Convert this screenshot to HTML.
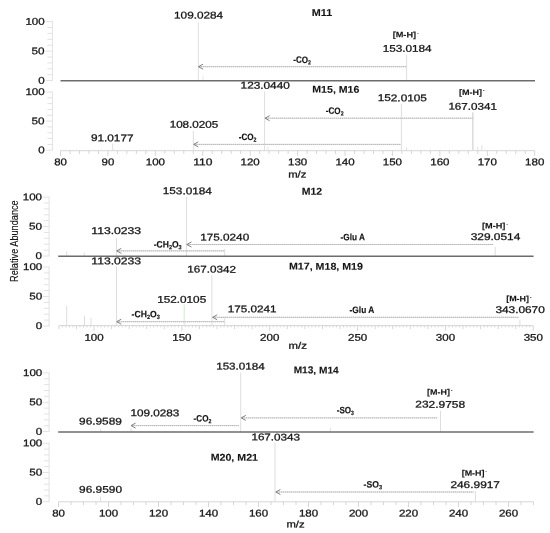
<!DOCTYPE html>
<html><head><meta charset="utf-8"><title>MS/MS spectra</title>
<style>
html,body{margin:0;padding:0;background:#fff;}
svg{display:block;font-family:"Liberation Sans",sans-serif;}
</style></head><body>
<svg width="550" height="533" viewBox="0 0 550 533">
<rect width="550" height="533" fill="#fff"/>
<line x1="52.40" y1="21.10" x2="52.40" y2="81.10" stroke="#e2e2e2" stroke-width="1" />
<line x1="45.80" y1="80.60" x2="52.40" y2="80.60" stroke="#e2e2e2" stroke-width="1" />
<line x1="47.40" y1="74.70" x2="52.40" y2="74.70" stroke="#e2e2e2" stroke-width="1" />
<line x1="47.40" y1="68.80" x2="52.40" y2="68.80" stroke="#e2e2e2" stroke-width="1" />
<line x1="47.40" y1="62.90" x2="52.40" y2="62.90" stroke="#e2e2e2" stroke-width="1" />
<line x1="47.40" y1="57.00" x2="52.40" y2="57.00" stroke="#e2e2e2" stroke-width="1" />
<line x1="45.80" y1="51.10" x2="52.40" y2="51.10" stroke="#e2e2e2" stroke-width="1" />
<line x1="47.40" y1="45.20" x2="52.40" y2="45.20" stroke="#e2e2e2" stroke-width="1" />
<line x1="47.40" y1="39.30" x2="52.40" y2="39.30" stroke="#e2e2e2" stroke-width="1" />
<line x1="47.40" y1="33.40" x2="52.40" y2="33.40" stroke="#e2e2e2" stroke-width="1" />
<line x1="47.40" y1="27.50" x2="52.40" y2="27.50" stroke="#e2e2e2" stroke-width="1" />
<line x1="45.80" y1="21.60" x2="52.40" y2="21.60" stroke="#e2e2e2" stroke-width="1" />
<text transform="rotate(0.2 35.0 24.7)" x="25.40" y="24.70" font-size="9.8" textLength="19.20" lengthAdjust="spacingAndGlyphs" fill="#141414" stroke="#141414" stroke-width="0.28" >100</text>
<text transform="rotate(0.2 38.1 54.2)" x="31.60" y="54.20" font-size="9.8" textLength="13.00" lengthAdjust="spacingAndGlyphs" fill="#141414" stroke="#141414" stroke-width="0.28" >50</text>
<text transform="rotate(0.2 41.4 83.7)" x="38.20" y="83.70" font-size="9.8" textLength="6.40" lengthAdjust="spacingAndGlyphs" fill="#141414" stroke="#141414" stroke-width="0.28" >0</text>
<line x1="52.40" y1="91.50" x2="52.40" y2="150.70" stroke="#e2e2e2" stroke-width="1" />
<line x1="45.80" y1="150.20" x2="52.40" y2="150.20" stroke="#e2e2e2" stroke-width="1" />
<line x1="47.40" y1="144.38" x2="52.40" y2="144.38" stroke="#e2e2e2" stroke-width="1" />
<line x1="47.40" y1="138.56" x2="52.40" y2="138.56" stroke="#e2e2e2" stroke-width="1" />
<line x1="47.40" y1="132.74" x2="52.40" y2="132.74" stroke="#e2e2e2" stroke-width="1" />
<line x1="47.40" y1="126.92" x2="52.40" y2="126.92" stroke="#e2e2e2" stroke-width="1" />
<line x1="45.80" y1="121.10" x2="52.40" y2="121.10" stroke="#e2e2e2" stroke-width="1" />
<line x1="47.40" y1="115.28" x2="52.40" y2="115.28" stroke="#e2e2e2" stroke-width="1" />
<line x1="47.40" y1="109.46" x2="52.40" y2="109.46" stroke="#e2e2e2" stroke-width="1" />
<line x1="47.40" y1="103.64" x2="52.40" y2="103.64" stroke="#e2e2e2" stroke-width="1" />
<line x1="47.40" y1="97.82" x2="52.40" y2="97.82" stroke="#e2e2e2" stroke-width="1" />
<line x1="45.80" y1="92.00" x2="52.40" y2="92.00" stroke="#e2e2e2" stroke-width="1" />
<text transform="rotate(0.2 35.0 95.1)" x="25.40" y="95.10" font-size="9.8" textLength="19.20" lengthAdjust="spacingAndGlyphs" fill="#141414" stroke="#141414" stroke-width="0.28" >100</text>
<text transform="rotate(0.2 38.1 124.2)" x="31.60" y="124.20" font-size="9.8" textLength="13.00" lengthAdjust="spacingAndGlyphs" fill="#141414" stroke="#141414" stroke-width="0.28" >50</text>
<text transform="rotate(0.2 41.4 153.3)" x="38.20" y="153.30" font-size="9.8" textLength="6.40" lengthAdjust="spacingAndGlyphs" fill="#141414" stroke="#141414" stroke-width="0.28" >0</text>
<line x1="198.30" y1="22.40" x2="198.30" y2="80.00" stroke="#dedede" stroke-width="1" />
<line x1="203.00" y1="75.50" x2="203.00" y2="80.00" stroke="#e8e8e8" stroke-width="1" />
<line x1="406.60" y1="54.70" x2="406.60" y2="80.00" stroke="#dedede" stroke-width="1" />
<line x1="198.80" y1="66.70" x2="406.60" y2="66.70" stroke="#d0d0d0" stroke-width="1" />
<line x1="199.00" y1="66.70" x2="406.60" y2="66.70" stroke="#bababa" stroke-width="1" stroke-dasharray="1 1"/>
<polyline points="203.10,64.20 198.50,66.70 203.10,69.20" fill="none" stroke="#707070" stroke-width="0.9"/>
<line x1="60.50" y1="80.70" x2="535.00" y2="80.70" stroke="#6c6c6c" stroke-width="1.6" />
<text transform="rotate(0.2 198.6 18.5)" x="174.10" y="18.50" font-size="9.8" textLength="49.00" lengthAdjust="spacingAndGlyphs" fill="#141414" stroke="#141414" stroke-width="0.28" >109.0284</text>
<text transform="rotate(0.2 407.1 51.8)" x="382.70" y="51.80" font-size="9.8" textLength="48.90" lengthAdjust="spacingAndGlyphs" fill="#141414" stroke="#141414" stroke-width="0.28" >153.0184</text>
<text transform="rotate(0.2 322.0 16.0)" x="311.80" y="16.00" font-size="10.0" textLength="20.40" lengthAdjust="spacingAndGlyphs" font-weight="bold" fill="#141414" stroke="#141414" stroke-width="0.1" >M11</text>
<text transform="rotate(0.2 404.4 37.4)" x="392.70" y="37.40" font-size="8.1" textLength="23.40" lengthAdjust="spacingAndGlyphs" font-weight="bold" fill="#141414" stroke="#141414" stroke-width="0.1" >[M-H]</text>
<text x="416.88" y="34.70" font-size="5.5" font-weight="bold" fill="#141414">-</text>
<text transform="rotate(0.2 302.1 62.9)" x="293.20" y="62.90" font-size="9.3" textLength="17.80" lengthAdjust="spacingAndGlyphs" font-weight="bold" fill="#141414" stroke="#141414" stroke-width="0.15" >-CO<tspan font-size="6.0" dy="1.7">2</tspan></text>
<line x1="60.50" y1="150.70" x2="534.70" y2="150.70" stroke="#d6d6d6" stroke-width="1" />
<line x1="60.50" y1="150.70" x2="60.50" y2="155.90" stroke="#d6d6d6" stroke-width="1" />
<line x1="69.98" y1="150.70" x2="69.98" y2="153.90" stroke="#d6d6d6" stroke-width="1" />
<line x1="79.47" y1="150.70" x2="79.47" y2="153.90" stroke="#d6d6d6" stroke-width="1" />
<line x1="88.95" y1="150.70" x2="88.95" y2="153.90" stroke="#d6d6d6" stroke-width="1" />
<line x1="98.44" y1="150.70" x2="98.44" y2="153.90" stroke="#d6d6d6" stroke-width="1" />
<line x1="107.92" y1="150.70" x2="107.92" y2="155.90" stroke="#d6d6d6" stroke-width="1" />
<line x1="117.40" y1="150.70" x2="117.40" y2="153.90" stroke="#d6d6d6" stroke-width="1" />
<line x1="126.89" y1="150.70" x2="126.89" y2="153.90" stroke="#d6d6d6" stroke-width="1" />
<line x1="136.37" y1="150.70" x2="136.37" y2="153.90" stroke="#d6d6d6" stroke-width="1" />
<line x1="145.86" y1="150.70" x2="145.86" y2="153.90" stroke="#d6d6d6" stroke-width="1" />
<line x1="155.34" y1="150.70" x2="155.34" y2="155.90" stroke="#d6d6d6" stroke-width="1" />
<line x1="164.82" y1="150.70" x2="164.82" y2="153.90" stroke="#d6d6d6" stroke-width="1" />
<line x1="174.31" y1="150.70" x2="174.31" y2="153.90" stroke="#d6d6d6" stroke-width="1" />
<line x1="183.79" y1="150.70" x2="183.79" y2="153.90" stroke="#d6d6d6" stroke-width="1" />
<line x1="193.28" y1="150.70" x2="193.28" y2="153.90" stroke="#d6d6d6" stroke-width="1" />
<line x1="202.76" y1="150.70" x2="202.76" y2="155.90" stroke="#d6d6d6" stroke-width="1" />
<line x1="212.24" y1="150.70" x2="212.24" y2="153.90" stroke="#d6d6d6" stroke-width="1" />
<line x1="221.73" y1="150.70" x2="221.73" y2="153.90" stroke="#d6d6d6" stroke-width="1" />
<line x1="231.21" y1="150.70" x2="231.21" y2="153.90" stroke="#d6d6d6" stroke-width="1" />
<line x1="240.70" y1="150.70" x2="240.70" y2="153.90" stroke="#d6d6d6" stroke-width="1" />
<line x1="250.18" y1="150.70" x2="250.18" y2="155.90" stroke="#d6d6d6" stroke-width="1" />
<line x1="259.66" y1="150.70" x2="259.66" y2="153.90" stroke="#d6d6d6" stroke-width="1" />
<line x1="269.15" y1="150.70" x2="269.15" y2="153.90" stroke="#d6d6d6" stroke-width="1" />
<line x1="278.63" y1="150.70" x2="278.63" y2="153.90" stroke="#d6d6d6" stroke-width="1" />
<line x1="288.12" y1="150.70" x2="288.12" y2="153.90" stroke="#d6d6d6" stroke-width="1" />
<line x1="297.60" y1="150.70" x2="297.60" y2="155.90" stroke="#d6d6d6" stroke-width="1" />
<line x1="307.08" y1="150.70" x2="307.08" y2="153.90" stroke="#d6d6d6" stroke-width="1" />
<line x1="316.57" y1="150.70" x2="316.57" y2="153.90" stroke="#d6d6d6" stroke-width="1" />
<line x1="326.05" y1="150.70" x2="326.05" y2="153.90" stroke="#d6d6d6" stroke-width="1" />
<line x1="335.54" y1="150.70" x2="335.54" y2="153.90" stroke="#d6d6d6" stroke-width="1" />
<line x1="345.02" y1="150.70" x2="345.02" y2="155.90" stroke="#d6d6d6" stroke-width="1" />
<line x1="354.50" y1="150.70" x2="354.50" y2="153.90" stroke="#d6d6d6" stroke-width="1" />
<line x1="363.99" y1="150.70" x2="363.99" y2="153.90" stroke="#d6d6d6" stroke-width="1" />
<line x1="373.47" y1="150.70" x2="373.47" y2="153.90" stroke="#d6d6d6" stroke-width="1" />
<line x1="382.96" y1="150.70" x2="382.96" y2="153.90" stroke="#d6d6d6" stroke-width="1" />
<line x1="392.44" y1="150.70" x2="392.44" y2="155.90" stroke="#d6d6d6" stroke-width="1" />
<line x1="401.92" y1="150.70" x2="401.92" y2="153.90" stroke="#d6d6d6" stroke-width="1" />
<line x1="411.41" y1="150.70" x2="411.41" y2="153.90" stroke="#d6d6d6" stroke-width="1" />
<line x1="420.89" y1="150.70" x2="420.89" y2="153.90" stroke="#d6d6d6" stroke-width="1" />
<line x1="430.38" y1="150.70" x2="430.38" y2="153.90" stroke="#d6d6d6" stroke-width="1" />
<line x1="439.86" y1="150.70" x2="439.86" y2="155.90" stroke="#d6d6d6" stroke-width="1" />
<line x1="449.34" y1="150.70" x2="449.34" y2="153.90" stroke="#d6d6d6" stroke-width="1" />
<line x1="458.83" y1="150.70" x2="458.83" y2="153.90" stroke="#d6d6d6" stroke-width="1" />
<line x1="468.31" y1="150.70" x2="468.31" y2="153.90" stroke="#d6d6d6" stroke-width="1" />
<line x1="477.80" y1="150.70" x2="477.80" y2="153.90" stroke="#d6d6d6" stroke-width="1" />
<line x1="487.28" y1="150.70" x2="487.28" y2="155.90" stroke="#d6d6d6" stroke-width="1" />
<line x1="496.76" y1="150.70" x2="496.76" y2="153.90" stroke="#d6d6d6" stroke-width="1" />
<line x1="506.25" y1="150.70" x2="506.25" y2="153.90" stroke="#d6d6d6" stroke-width="1" />
<line x1="515.73" y1="150.70" x2="515.73" y2="153.90" stroke="#d6d6d6" stroke-width="1" />
<line x1="525.22" y1="150.70" x2="525.22" y2="153.90" stroke="#d6d6d6" stroke-width="1" />
<line x1="534.70" y1="150.70" x2="534.70" y2="155.90" stroke="#d6d6d6" stroke-width="1" />
<text transform="rotate(0.2 60.5 165.3)" x="54.15" y="165.30" font-size="9.8" textLength="12.70" lengthAdjust="spacingAndGlyphs" fill="#141414" stroke="#141414" stroke-width="0.28" >80</text>
<text transform="rotate(0.2 107.9 165.3)" x="101.57" y="165.30" font-size="9.8" textLength="12.70" lengthAdjust="spacingAndGlyphs" fill="#141414" stroke="#141414" stroke-width="0.28" >90</text>
<text transform="rotate(0.2 155.3 165.3)" x="145.74" y="165.30" font-size="9.8" textLength="19.20" lengthAdjust="spacingAndGlyphs" fill="#141414" stroke="#141414" stroke-width="0.28" >100</text>
<text transform="rotate(0.2 202.8 165.3)" x="193.16" y="165.30" font-size="9.8" textLength="19.20" lengthAdjust="spacingAndGlyphs" fill="#141414" stroke="#141414" stroke-width="0.28" >110</text>
<text transform="rotate(0.2 250.2 165.3)" x="240.58" y="165.30" font-size="9.8" textLength="19.20" lengthAdjust="spacingAndGlyphs" fill="#141414" stroke="#141414" stroke-width="0.28" >120</text>
<text transform="rotate(0.2 297.6 165.3)" x="288.00" y="165.30" font-size="9.8" textLength="19.20" lengthAdjust="spacingAndGlyphs" fill="#141414" stroke="#141414" stroke-width="0.28" >130</text>
<text transform="rotate(0.2 345.0 165.3)" x="335.42" y="165.30" font-size="9.8" textLength="19.20" lengthAdjust="spacingAndGlyphs" fill="#141414" stroke="#141414" stroke-width="0.28" >140</text>
<text transform="rotate(0.2 392.4 165.3)" x="382.84" y="165.30" font-size="9.8" textLength="19.20" lengthAdjust="spacingAndGlyphs" fill="#141414" stroke="#141414" stroke-width="0.28" >150</text>
<text transform="rotate(0.2 439.9 165.3)" x="430.26" y="165.30" font-size="9.8" textLength="19.20" lengthAdjust="spacingAndGlyphs" fill="#141414" stroke="#141414" stroke-width="0.28" >160</text>
<text transform="rotate(0.2 487.3 165.3)" x="477.68" y="165.30" font-size="9.8" textLength="19.20" lengthAdjust="spacingAndGlyphs" fill="#141414" stroke="#141414" stroke-width="0.28" >170</text>
<text transform="rotate(0.2 534.7 165.3)" x="525.10" y="165.30" font-size="9.8" textLength="19.20" lengthAdjust="spacingAndGlyphs" fill="#141414" stroke="#141414" stroke-width="0.28" >180</text>
<line x1="264.61" y1="91.50" x2="264.61" y2="150.00" stroke="#dedede" stroke-width="1" />
<line x1="268.00" y1="146.50" x2="268.00" y2="150.00" stroke="#e6e6e6" stroke-width="1" />
<line x1="193.37" y1="131.00" x2="193.37" y2="150.00" stroke="#dedede" stroke-width="1" />
<line x1="112.75" y1="143.50" x2="112.75" y2="150.00" stroke="#dedede" stroke-width="1" />
<line x1="401.40" y1="103.70" x2="401.40" y2="150.00" stroke="#dedede" stroke-width="1" />
<line x1="406.50" y1="147.50" x2="406.50" y2="150.00" stroke="#dedede" stroke-width="1" />
<line x1="472.80" y1="112.30" x2="472.80" y2="150.00" stroke="#dedede" stroke-width="1.6" />
<line x1="477.70" y1="146.80" x2="477.70" y2="150.00" stroke="#dedede" stroke-width="1" />
<line x1="481.80" y1="145.30" x2="481.80" y2="150.00" stroke="#dedede" stroke-width="1" />
<line x1="265.30" y1="118.20" x2="472.80" y2="118.20" stroke="#d0d0d0" stroke-width="1" />
<line x1="266.00" y1="118.20" x2="472.80" y2="118.20" stroke="#bababa" stroke-width="1" stroke-dasharray="1 1"/>
<polyline points="269.60,115.70 265.00,118.20 269.60,120.70" fill="none" stroke="#707070" stroke-width="0.9"/>
<line x1="194.00" y1="144.40" x2="400.90" y2="144.40" stroke="#d0d0d0" stroke-width="1" />
<line x1="195.00" y1="144.40" x2="400.90" y2="144.40" stroke="#bababa" stroke-width="1" stroke-dasharray="1 1"/>
<polyline points="198.30,141.90 193.70,144.40 198.30,146.90" fill="none" stroke="#707070" stroke-width="0.9"/>
<text transform="rotate(0.2 265.2 88.7)" x="240.60" y="88.70" font-size="9.8" textLength="49.20" lengthAdjust="spacingAndGlyphs" fill="#141414" stroke="#141414" stroke-width="0.28" >123.0440</text>
<text transform="rotate(0.2 402.3 101.2)" x="377.70" y="101.20" font-size="9.8" textLength="49.20" lengthAdjust="spacingAndGlyphs" fill="#141414" stroke="#141414" stroke-width="0.28" >152.0105</text>
<text transform="rotate(0.2 472.6 109.7)" x="448.40" y="109.70" font-size="9.8" textLength="48.50" lengthAdjust="spacingAndGlyphs" fill="#141414" stroke="#141414" stroke-width="0.28" >167.0341</text>
<text transform="rotate(0.2 193.9 127.7)" x="169.70" y="127.70" font-size="9.8" textLength="48.50" lengthAdjust="spacingAndGlyphs" fill="#141414" stroke="#141414" stroke-width="0.28" >108.0205</text>
<text transform="rotate(0.2 112.2 141.2)" x="90.90" y="141.20" font-size="9.8" textLength="42.70" lengthAdjust="spacingAndGlyphs" fill="#141414" stroke="#141414" stroke-width="0.28" >91.0177</text>
<text transform="rotate(0.2 335.9 92.7)" x="312.30" y="92.70" font-size="9.9" textLength="47.10" lengthAdjust="spacingAndGlyphs" font-weight="bold" fill="#141414" stroke="#141414" stroke-width="0.1" >M15, M16</text>
<text transform="rotate(0.2 470.5 95.1)" x="458.90" y="95.10" font-size="8.1" textLength="23.13" lengthAdjust="spacingAndGlyphs" font-weight="bold" fill="#141414" stroke="#141414" stroke-width="0.1" >[M-H]</text>
<text x="482.80" y="92.40" font-size="5.5" font-weight="bold" fill="#141414">-</text>
<text transform="rotate(0.2 334.7 113.9)" x="325.80" y="113.90" font-size="9.3" textLength="17.80" lengthAdjust="spacingAndGlyphs" font-weight="bold" fill="#141414" stroke="#141414" stroke-width="0.15" >-CO<tspan font-size="6.0" dy="1.7">2</tspan></text>
<text transform="rotate(0.2 247.6 140.1)" x="238.70" y="140.10" font-size="9.3" textLength="17.80" lengthAdjust="spacingAndGlyphs" font-weight="bold" fill="#141414" stroke="#141414" stroke-width="0.15" >-CO<tspan font-size="6.0" dy="1.7">2</tspan></text>
<text transform="rotate(0.2 297.3 177.5)" x="288.20" y="177.50" font-size="9.4" textLength="18.20" lengthAdjust="spacingAndGlyphs" fill="#141414" stroke="#141414" stroke-width="0.28" >m/z</text>
<line x1="49.10" y1="196.60" x2="49.10" y2="256.50" stroke="#e2e2e2" stroke-width="1" />
<line x1="42.50" y1="256.00" x2="49.10" y2="256.00" stroke="#e2e2e2" stroke-width="1" />
<line x1="44.10" y1="250.11" x2="49.10" y2="250.11" stroke="#e2e2e2" stroke-width="1" />
<line x1="44.10" y1="244.22" x2="49.10" y2="244.22" stroke="#e2e2e2" stroke-width="1" />
<line x1="44.10" y1="238.33" x2="49.10" y2="238.33" stroke="#e2e2e2" stroke-width="1" />
<line x1="44.10" y1="232.44" x2="49.10" y2="232.44" stroke="#e2e2e2" stroke-width="1" />
<line x1="42.50" y1="226.55" x2="49.10" y2="226.55" stroke="#e2e2e2" stroke-width="1" />
<line x1="44.10" y1="220.66" x2="49.10" y2="220.66" stroke="#e2e2e2" stroke-width="1" />
<line x1="44.10" y1="214.77" x2="49.10" y2="214.77" stroke="#e2e2e2" stroke-width="1" />
<line x1="44.10" y1="208.88" x2="49.10" y2="208.88" stroke="#e2e2e2" stroke-width="1" />
<line x1="44.10" y1="202.99" x2="49.10" y2="202.99" stroke="#e2e2e2" stroke-width="1" />
<line x1="42.50" y1="197.10" x2="49.10" y2="197.10" stroke="#e2e2e2" stroke-width="1" />
<text transform="rotate(0.2 32.4 200.2)" x="22.80" y="200.20" font-size="9.8" textLength="19.20" lengthAdjust="spacingAndGlyphs" fill="#141414" stroke="#141414" stroke-width="0.28" >100</text>
<text transform="rotate(0.2 35.5 229.7)" x="29.00" y="229.65" font-size="9.8" textLength="13.00" lengthAdjust="spacingAndGlyphs" fill="#141414" stroke="#141414" stroke-width="0.28" >50</text>
<text transform="rotate(0.2 38.8 259.1)" x="35.60" y="259.10" font-size="9.8" textLength="6.40" lengthAdjust="spacingAndGlyphs" fill="#141414" stroke="#141414" stroke-width="0.28" >0</text>
<line x1="49.10" y1="266.50" x2="49.10" y2="326.50" stroke="#e2e2e2" stroke-width="1" />
<line x1="42.50" y1="326.00" x2="49.10" y2="326.00" stroke="#e2e2e2" stroke-width="1" />
<line x1="44.10" y1="320.10" x2="49.10" y2="320.10" stroke="#e2e2e2" stroke-width="1" />
<line x1="44.10" y1="314.20" x2="49.10" y2="314.20" stroke="#e2e2e2" stroke-width="1" />
<line x1="44.10" y1="308.30" x2="49.10" y2="308.30" stroke="#e2e2e2" stroke-width="1" />
<line x1="44.10" y1="302.40" x2="49.10" y2="302.40" stroke="#e2e2e2" stroke-width="1" />
<line x1="42.50" y1="296.50" x2="49.10" y2="296.50" stroke="#e2e2e2" stroke-width="1" />
<line x1="44.10" y1="290.60" x2="49.10" y2="290.60" stroke="#e2e2e2" stroke-width="1" />
<line x1="44.10" y1="284.70" x2="49.10" y2="284.70" stroke="#e2e2e2" stroke-width="1" />
<line x1="44.10" y1="278.80" x2="49.10" y2="278.80" stroke="#e2e2e2" stroke-width="1" />
<line x1="44.10" y1="272.90" x2="49.10" y2="272.90" stroke="#e2e2e2" stroke-width="1" />
<line x1="42.50" y1="267.00" x2="49.10" y2="267.00" stroke="#e2e2e2" stroke-width="1" />
<text transform="rotate(0.2 32.6 270.1)" x="23.00" y="270.10" font-size="9.8" textLength="19.20" lengthAdjust="spacingAndGlyphs" fill="#141414" stroke="#141414" stroke-width="0.28" >100</text>
<text transform="rotate(0.2 35.7 299.6)" x="29.20" y="299.60" font-size="9.8" textLength="13.00" lengthAdjust="spacingAndGlyphs" fill="#141414" stroke="#141414" stroke-width="0.28" >50</text>
<text transform="rotate(0.2 39.0 329.1)" x="35.80" y="329.10" font-size="9.8" textLength="6.40" lengthAdjust="spacingAndGlyphs" fill="#141414" stroke="#141414" stroke-width="0.28" >0</text>
<text transform="translate(18.0,281.9) rotate(-90)" x="0" y="0" font-size="11.8" textLength="81.6" stroke="#141414" stroke-width="0.15" lengthAdjust="spacingAndGlyphs" fill="#141414">Relative Abundance</text>
<line x1="116.50" y1="238.00" x2="116.50" y2="256.00" stroke="#dedede" stroke-width="1" />
<line x1="186.50" y1="197.40" x2="186.50" y2="256.00" stroke="#dedede" stroke-width="1" />
<line x1="224.70" y1="249.00" x2="224.70" y2="256.00" stroke="#dedede" stroke-width="1" />
<line x1="495.20" y1="246.80" x2="495.20" y2="256.00" stroke="#dedede" stroke-width="1" />
<line x1="66.70" y1="251.50" x2="66.70" y2="256.00" stroke="#dedede" stroke-width="1" />
<line x1="84.20" y1="252.50" x2="84.20" y2="256.00" stroke="#dedede" stroke-width="1" />
<line x1="187.10" y1="244.50" x2="493.20" y2="244.50" stroke="#d0d0d0" stroke-width="1" />
<line x1="188.00" y1="244.50" x2="493.20" y2="244.50" stroke="#bababa" stroke-width="1" stroke-dasharray="1 1"/>
<polyline points="191.40,242.00 186.80,244.50 191.40,247.00" fill="none" stroke="#707070" stroke-width="0.9"/>
<line x1="117.00" y1="250.90" x2="224.70" y2="250.90" stroke="#d0d0d0" stroke-width="1" />
<line x1="117.00" y1="250.90" x2="224.70" y2="250.90" stroke="#bababa" stroke-width="1" stroke-dasharray="1 1"/>
<polyline points="121.30,248.40 116.70,250.90 121.30,253.40" fill="none" stroke="#707070" stroke-width="0.9"/>
<line x1="58.20" y1="256.20" x2="533.60" y2="256.20" stroke="#6c6c6c" stroke-width="1.6" />
<text transform="rotate(0.2 187.3 194.2)" x="162.80" y="194.20" font-size="9.8" textLength="49.00" lengthAdjust="spacingAndGlyphs" fill="#141414" stroke="#141414" stroke-width="0.28" >153.0184</text>
<text transform="rotate(0.2 116.2 234.0)" x="91.30" y="234.00" font-size="9.8" textLength="49.80" lengthAdjust="spacingAndGlyphs" fill="#141414" stroke="#141414" stroke-width="0.28" >113.0233</text>
<text transform="rotate(0.2 224.7 240.5)" x="200.20" y="240.50" font-size="9.8" textLength="49.00" lengthAdjust="spacingAndGlyphs" fill="#141414" stroke="#141414" stroke-width="0.28" >175.0240</text>
<text transform="rotate(0.2 495.5 240.0)" x="470.70" y="240.00" font-size="9.8" textLength="49.70" lengthAdjust="spacingAndGlyphs" fill="#141414" stroke="#141414" stroke-width="0.28" >329.0514</text>
<text transform="rotate(0.2 312.0 194.8)" x="301.80" y="194.80" font-size="10.0" textLength="20.40" lengthAdjust="spacingAndGlyphs" font-weight="bold" fill="#141414" stroke="#141414" stroke-width="0.1" >M12</text>
<text transform="rotate(0.2 493.7 228.5)" x="482.00" y="228.50" font-size="8.1" textLength="23.40" lengthAdjust="spacingAndGlyphs" font-weight="bold" fill="#141414" stroke="#141414" stroke-width="0.1" >[M-H]</text>
<text x="506.18" y="225.80" font-size="5.5" font-weight="bold" fill="#141414">-</text>
<text transform="rotate(0.2 352.7 240.2)" x="340.50" y="240.20" font-size="9.3" textLength="24.40" lengthAdjust="spacingAndGlyphs" font-weight="bold" fill="#141414" stroke="#141414" stroke-width="0.15" >-Glu A</text>
<text transform="rotate(0.2 167.7 247.5)" x="153.70" y="247.50" font-size="9.3" textLength="28.00" lengthAdjust="spacingAndGlyphs" font-weight="bold" fill="#141414" stroke="#141414" stroke-width="0.15" >-CH<tspan font-size="6.0" dy="1.7">2</tspan><tspan dy="-1.7">O</tspan><tspan font-size="6.0" dy="1.7">3</tspan></text>
<line x1="58.90" y1="325.60" x2="533.30" y2="325.60" stroke="#d6d6d6" stroke-width="1" />
<line x1="58.90" y1="325.60" x2="58.90" y2="329.00" stroke="#d6d6d6" stroke-width="1" />
<line x1="62.41" y1="325.60" x2="62.41" y2="327.40" stroke="#d6d6d6" stroke-width="1" />
<line x1="65.93" y1="325.60" x2="65.93" y2="327.40" stroke="#d6d6d6" stroke-width="1" />
<line x1="69.44" y1="325.60" x2="69.44" y2="327.40" stroke="#d6d6d6" stroke-width="1" />
<line x1="72.96" y1="325.60" x2="72.96" y2="327.40" stroke="#d6d6d6" stroke-width="1" />
<line x1="76.47" y1="325.60" x2="76.47" y2="329.00" stroke="#d6d6d6" stroke-width="1" />
<line x1="79.98" y1="325.60" x2="79.98" y2="327.40" stroke="#d6d6d6" stroke-width="1" />
<line x1="83.50" y1="325.60" x2="83.50" y2="327.40" stroke="#d6d6d6" stroke-width="1" />
<line x1="87.01" y1="325.60" x2="87.01" y2="327.40" stroke="#d6d6d6" stroke-width="1" />
<line x1="90.53" y1="325.60" x2="90.53" y2="327.40" stroke="#d6d6d6" stroke-width="1" />
<line x1="94.04" y1="325.60" x2="94.04" y2="330.80" stroke="#d6d6d6" stroke-width="1" />
<line x1="97.55" y1="325.60" x2="97.55" y2="327.40" stroke="#d6d6d6" stroke-width="1" />
<line x1="101.07" y1="325.60" x2="101.07" y2="327.40" stroke="#d6d6d6" stroke-width="1" />
<line x1="104.58" y1="325.60" x2="104.58" y2="327.40" stroke="#d6d6d6" stroke-width="1" />
<line x1="108.10" y1="325.60" x2="108.10" y2="327.40" stroke="#d6d6d6" stroke-width="1" />
<line x1="111.61" y1="325.60" x2="111.61" y2="329.00" stroke="#d6d6d6" stroke-width="1" />
<line x1="115.13" y1="325.60" x2="115.13" y2="327.40" stroke="#d6d6d6" stroke-width="1" />
<line x1="118.64" y1="325.60" x2="118.64" y2="327.40" stroke="#d6d6d6" stroke-width="1" />
<line x1="122.15" y1="325.60" x2="122.15" y2="327.40" stroke="#d6d6d6" stroke-width="1" />
<line x1="125.67" y1="325.60" x2="125.67" y2="327.40" stroke="#d6d6d6" stroke-width="1" />
<line x1="129.18" y1="325.60" x2="129.18" y2="329.00" stroke="#d6d6d6" stroke-width="1" />
<line x1="132.70" y1="325.60" x2="132.70" y2="327.40" stroke="#d6d6d6" stroke-width="1" />
<line x1="136.21" y1="325.60" x2="136.21" y2="327.40" stroke="#d6d6d6" stroke-width="1" />
<line x1="139.72" y1="325.60" x2="139.72" y2="327.40" stroke="#d6d6d6" stroke-width="1" />
<line x1="143.24" y1="325.60" x2="143.24" y2="327.40" stroke="#d6d6d6" stroke-width="1" />
<line x1="146.75" y1="325.60" x2="146.75" y2="329.00" stroke="#d6d6d6" stroke-width="1" />
<line x1="150.27" y1="325.60" x2="150.27" y2="327.40" stroke="#d6d6d6" stroke-width="1" />
<line x1="153.78" y1="325.60" x2="153.78" y2="327.40" stroke="#d6d6d6" stroke-width="1" />
<line x1="157.29" y1="325.60" x2="157.29" y2="327.40" stroke="#d6d6d6" stroke-width="1" />
<line x1="160.81" y1="325.60" x2="160.81" y2="327.40" stroke="#d6d6d6" stroke-width="1" />
<line x1="164.32" y1="325.60" x2="164.32" y2="329.00" stroke="#d6d6d6" stroke-width="1" />
<line x1="167.84" y1="325.60" x2="167.84" y2="327.40" stroke="#d6d6d6" stroke-width="1" />
<line x1="171.35" y1="325.60" x2="171.35" y2="327.40" stroke="#d6d6d6" stroke-width="1" />
<line x1="174.86" y1="325.60" x2="174.86" y2="327.40" stroke="#d6d6d6" stroke-width="1" />
<line x1="178.38" y1="325.60" x2="178.38" y2="327.40" stroke="#d6d6d6" stroke-width="1" />
<line x1="181.89" y1="325.60" x2="181.89" y2="330.80" stroke="#d6d6d6" stroke-width="1" />
<line x1="185.41" y1="325.60" x2="185.41" y2="327.40" stroke="#d6d6d6" stroke-width="1" />
<line x1="188.92" y1="325.60" x2="188.92" y2="327.40" stroke="#d6d6d6" stroke-width="1" />
<line x1="192.43" y1="325.60" x2="192.43" y2="327.40" stroke="#d6d6d6" stroke-width="1" />
<line x1="195.95" y1="325.60" x2="195.95" y2="327.40" stroke="#d6d6d6" stroke-width="1" />
<line x1="199.46" y1="325.60" x2="199.46" y2="329.00" stroke="#d6d6d6" stroke-width="1" />
<line x1="202.98" y1="325.60" x2="202.98" y2="327.40" stroke="#d6d6d6" stroke-width="1" />
<line x1="206.49" y1="325.60" x2="206.49" y2="327.40" stroke="#d6d6d6" stroke-width="1" />
<line x1="210.01" y1="325.60" x2="210.01" y2="327.40" stroke="#d6d6d6" stroke-width="1" />
<line x1="213.52" y1="325.60" x2="213.52" y2="327.40" stroke="#d6d6d6" stroke-width="1" />
<line x1="217.03" y1="325.60" x2="217.03" y2="329.00" stroke="#d6d6d6" stroke-width="1" />
<line x1="220.55" y1="325.60" x2="220.55" y2="327.40" stroke="#d6d6d6" stroke-width="1" />
<line x1="224.06" y1="325.60" x2="224.06" y2="327.40" stroke="#d6d6d6" stroke-width="1" />
<line x1="227.58" y1="325.60" x2="227.58" y2="327.40" stroke="#d6d6d6" stroke-width="1" />
<line x1="231.09" y1="325.60" x2="231.09" y2="327.40" stroke="#d6d6d6" stroke-width="1" />
<line x1="234.60" y1="325.60" x2="234.60" y2="329.00" stroke="#d6d6d6" stroke-width="1" />
<line x1="238.12" y1="325.60" x2="238.12" y2="327.40" stroke="#d6d6d6" stroke-width="1" />
<line x1="241.63" y1="325.60" x2="241.63" y2="327.40" stroke="#d6d6d6" stroke-width="1" />
<line x1="245.15" y1="325.60" x2="245.15" y2="327.40" stroke="#d6d6d6" stroke-width="1" />
<line x1="248.66" y1="325.60" x2="248.66" y2="327.40" stroke="#d6d6d6" stroke-width="1" />
<line x1="252.17" y1="325.60" x2="252.17" y2="329.00" stroke="#d6d6d6" stroke-width="1" />
<line x1="255.69" y1="325.60" x2="255.69" y2="327.40" stroke="#d6d6d6" stroke-width="1" />
<line x1="259.20" y1="325.60" x2="259.20" y2="327.40" stroke="#d6d6d6" stroke-width="1" />
<line x1="262.72" y1="325.60" x2="262.72" y2="327.40" stroke="#d6d6d6" stroke-width="1" />
<line x1="266.23" y1="325.60" x2="266.23" y2="327.40" stroke="#d6d6d6" stroke-width="1" />
<line x1="269.74" y1="325.60" x2="269.74" y2="330.80" stroke="#d6d6d6" stroke-width="1" />
<line x1="273.26" y1="325.60" x2="273.26" y2="327.40" stroke="#d6d6d6" stroke-width="1" />
<line x1="276.77" y1="325.60" x2="276.77" y2="327.40" stroke="#d6d6d6" stroke-width="1" />
<line x1="280.29" y1="325.60" x2="280.29" y2="327.40" stroke="#d6d6d6" stroke-width="1" />
<line x1="283.80" y1="325.60" x2="283.80" y2="327.40" stroke="#d6d6d6" stroke-width="1" />
<line x1="287.31" y1="325.60" x2="287.31" y2="329.00" stroke="#d6d6d6" stroke-width="1" />
<line x1="290.83" y1="325.60" x2="290.83" y2="327.40" stroke="#d6d6d6" stroke-width="1" />
<line x1="294.34" y1="325.60" x2="294.34" y2="327.40" stroke="#d6d6d6" stroke-width="1" />
<line x1="297.86" y1="325.60" x2="297.86" y2="327.40" stroke="#d6d6d6" stroke-width="1" />
<line x1="301.37" y1="325.60" x2="301.37" y2="327.40" stroke="#d6d6d6" stroke-width="1" />
<line x1="304.89" y1="325.60" x2="304.89" y2="329.00" stroke="#d6d6d6" stroke-width="1" />
<line x1="308.40" y1="325.60" x2="308.40" y2="327.40" stroke="#d6d6d6" stroke-width="1" />
<line x1="311.91" y1="325.60" x2="311.91" y2="327.40" stroke="#d6d6d6" stroke-width="1" />
<line x1="315.43" y1="325.60" x2="315.43" y2="327.40" stroke="#d6d6d6" stroke-width="1" />
<line x1="318.94" y1="325.60" x2="318.94" y2="327.40" stroke="#d6d6d6" stroke-width="1" />
<line x1="322.46" y1="325.60" x2="322.46" y2="329.00" stroke="#d6d6d6" stroke-width="1" />
<line x1="325.97" y1="325.60" x2="325.97" y2="327.40" stroke="#d6d6d6" stroke-width="1" />
<line x1="329.48" y1="325.60" x2="329.48" y2="327.40" stroke="#d6d6d6" stroke-width="1" />
<line x1="333.00" y1="325.60" x2="333.00" y2="327.40" stroke="#d6d6d6" stroke-width="1" />
<line x1="336.51" y1="325.60" x2="336.51" y2="327.40" stroke="#d6d6d6" stroke-width="1" />
<line x1="340.03" y1="325.60" x2="340.03" y2="329.00" stroke="#d6d6d6" stroke-width="1" />
<line x1="343.54" y1="325.60" x2="343.54" y2="327.40" stroke="#d6d6d6" stroke-width="1" />
<line x1="347.05" y1="325.60" x2="347.05" y2="327.40" stroke="#d6d6d6" stroke-width="1" />
<line x1="350.57" y1="325.60" x2="350.57" y2="327.40" stroke="#d6d6d6" stroke-width="1" />
<line x1="354.08" y1="325.60" x2="354.08" y2="327.40" stroke="#d6d6d6" stroke-width="1" />
<line x1="357.60" y1="325.60" x2="357.60" y2="330.80" stroke="#d6d6d6" stroke-width="1" />
<line x1="361.11" y1="325.60" x2="361.11" y2="327.40" stroke="#d6d6d6" stroke-width="1" />
<line x1="364.62" y1="325.60" x2="364.62" y2="327.40" stroke="#d6d6d6" stroke-width="1" />
<line x1="368.14" y1="325.60" x2="368.14" y2="327.40" stroke="#d6d6d6" stroke-width="1" />
<line x1="371.65" y1="325.60" x2="371.65" y2="327.40" stroke="#d6d6d6" stroke-width="1" />
<line x1="375.17" y1="325.60" x2="375.17" y2="329.00" stroke="#d6d6d6" stroke-width="1" />
<line x1="378.68" y1="325.60" x2="378.68" y2="327.40" stroke="#d6d6d6" stroke-width="1" />
<line x1="382.19" y1="325.60" x2="382.19" y2="327.40" stroke="#d6d6d6" stroke-width="1" />
<line x1="385.71" y1="325.60" x2="385.71" y2="327.40" stroke="#d6d6d6" stroke-width="1" />
<line x1="389.22" y1="325.60" x2="389.22" y2="327.40" stroke="#d6d6d6" stroke-width="1" />
<line x1="392.74" y1="325.60" x2="392.74" y2="329.00" stroke="#d6d6d6" stroke-width="1" />
<line x1="396.25" y1="325.60" x2="396.25" y2="327.40" stroke="#d6d6d6" stroke-width="1" />
<line x1="399.77" y1="325.60" x2="399.77" y2="327.40" stroke="#d6d6d6" stroke-width="1" />
<line x1="403.28" y1="325.60" x2="403.28" y2="327.40" stroke="#d6d6d6" stroke-width="1" />
<line x1="406.79" y1="325.60" x2="406.79" y2="327.40" stroke="#d6d6d6" stroke-width="1" />
<line x1="410.31" y1="325.60" x2="410.31" y2="329.00" stroke="#d6d6d6" stroke-width="1" />
<line x1="413.82" y1="325.60" x2="413.82" y2="327.40" stroke="#d6d6d6" stroke-width="1" />
<line x1="417.34" y1="325.60" x2="417.34" y2="327.40" stroke="#d6d6d6" stroke-width="1" />
<line x1="420.85" y1="325.60" x2="420.85" y2="327.40" stroke="#d6d6d6" stroke-width="1" />
<line x1="424.36" y1="325.60" x2="424.36" y2="327.40" stroke="#d6d6d6" stroke-width="1" />
<line x1="427.88" y1="325.60" x2="427.88" y2="329.00" stroke="#d6d6d6" stroke-width="1" />
<line x1="431.39" y1="325.60" x2="431.39" y2="327.40" stroke="#d6d6d6" stroke-width="1" />
<line x1="434.91" y1="325.60" x2="434.91" y2="327.40" stroke="#d6d6d6" stroke-width="1" />
<line x1="438.42" y1="325.60" x2="438.42" y2="327.40" stroke="#d6d6d6" stroke-width="1" />
<line x1="441.93" y1="325.60" x2="441.93" y2="327.40" stroke="#d6d6d6" stroke-width="1" />
<line x1="445.45" y1="325.60" x2="445.45" y2="330.80" stroke="#d6d6d6" stroke-width="1" />
<line x1="448.96" y1="325.60" x2="448.96" y2="327.40" stroke="#d6d6d6" stroke-width="1" />
<line x1="452.48" y1="325.60" x2="452.48" y2="327.40" stroke="#d6d6d6" stroke-width="1" />
<line x1="455.99" y1="325.60" x2="455.99" y2="327.40" stroke="#d6d6d6" stroke-width="1" />
<line x1="459.50" y1="325.60" x2="459.50" y2="327.40" stroke="#d6d6d6" stroke-width="1" />
<line x1="463.02" y1="325.60" x2="463.02" y2="329.00" stroke="#d6d6d6" stroke-width="1" />
<line x1="466.53" y1="325.60" x2="466.53" y2="327.40" stroke="#d6d6d6" stroke-width="1" />
<line x1="470.05" y1="325.60" x2="470.05" y2="327.40" stroke="#d6d6d6" stroke-width="1" />
<line x1="473.56" y1="325.60" x2="473.56" y2="327.40" stroke="#d6d6d6" stroke-width="1" />
<line x1="477.07" y1="325.60" x2="477.07" y2="327.40" stroke="#d6d6d6" stroke-width="1" />
<line x1="480.59" y1="325.60" x2="480.59" y2="329.00" stroke="#d6d6d6" stroke-width="1" />
<line x1="484.10" y1="325.60" x2="484.10" y2="327.40" stroke="#d6d6d6" stroke-width="1" />
<line x1="487.62" y1="325.60" x2="487.62" y2="327.40" stroke="#d6d6d6" stroke-width="1" />
<line x1="491.13" y1="325.60" x2="491.13" y2="327.40" stroke="#d6d6d6" stroke-width="1" />
<line x1="494.65" y1="325.60" x2="494.65" y2="327.40" stroke="#d6d6d6" stroke-width="1" />
<line x1="498.16" y1="325.60" x2="498.16" y2="329.00" stroke="#d6d6d6" stroke-width="1" />
<line x1="501.67" y1="325.60" x2="501.67" y2="327.40" stroke="#d6d6d6" stroke-width="1" />
<line x1="505.19" y1="325.60" x2="505.19" y2="327.40" stroke="#d6d6d6" stroke-width="1" />
<line x1="508.70" y1="325.60" x2="508.70" y2="327.40" stroke="#d6d6d6" stroke-width="1" />
<line x1="512.22" y1="325.60" x2="512.22" y2="327.40" stroke="#d6d6d6" stroke-width="1" />
<line x1="515.73" y1="325.60" x2="515.73" y2="329.00" stroke="#d6d6d6" stroke-width="1" />
<line x1="519.24" y1="325.60" x2="519.24" y2="327.40" stroke="#d6d6d6" stroke-width="1" />
<line x1="522.76" y1="325.60" x2="522.76" y2="327.40" stroke="#d6d6d6" stroke-width="1" />
<line x1="526.27" y1="325.60" x2="526.27" y2="327.40" stroke="#d6d6d6" stroke-width="1" />
<line x1="529.79" y1="325.60" x2="529.79" y2="327.40" stroke="#d6d6d6" stroke-width="1" />
<line x1="533.30" y1="325.60" x2="533.30" y2="330.80" stroke="#d6d6d6" stroke-width="1" />
<text transform="rotate(0.2 94.0 340.8)" x="84.44" y="340.80" font-size="9.8" textLength="19.20" lengthAdjust="spacingAndGlyphs" fill="#141414" stroke="#141414" stroke-width="0.28" >100</text>
<text transform="rotate(0.2 181.9 340.8)" x="172.29" y="340.80" font-size="9.8" textLength="19.20" lengthAdjust="spacingAndGlyphs" fill="#141414" stroke="#141414" stroke-width="0.28" >150</text>
<text transform="rotate(0.2 269.7 340.8)" x="260.14" y="340.80" font-size="9.8" textLength="19.20" lengthAdjust="spacingAndGlyphs" fill="#141414" stroke="#141414" stroke-width="0.28" >200</text>
<text transform="rotate(0.2 357.6 340.8)" x="348.00" y="340.80" font-size="9.8" textLength="19.20" lengthAdjust="spacingAndGlyphs" fill="#141414" stroke="#141414" stroke-width="0.28" >250</text>
<text transform="rotate(0.2 445.4 340.8)" x="435.85" y="340.80" font-size="9.8" textLength="19.20" lengthAdjust="spacingAndGlyphs" fill="#141414" stroke="#141414" stroke-width="0.28" >300</text>
<text transform="rotate(0.2 533.3 340.8)" x="523.70" y="340.80" font-size="9.8" textLength="19.20" lengthAdjust="spacingAndGlyphs" fill="#141414" stroke="#141414" stroke-width="0.28" >350</text>
<line x1="116.50" y1="266.50" x2="116.50" y2="325.60" stroke="#dedede" stroke-width="1" />
<line x1="211.90" y1="275.40" x2="211.90" y2="325.60" stroke="#dedede" stroke-width="1" />
<line x1="184.20" y1="304.60" x2="184.20" y2="325.60" stroke="#d8e6d2" stroke-width="1" />
<line x1="66.70" y1="305.90" x2="66.70" y2="325.60" stroke="#dedede" stroke-width="1" />
<line x1="84.50" y1="316.00" x2="84.50" y2="325.60" stroke="#dedede" stroke-width="1" />
<line x1="91.00" y1="318.00" x2="91.00" y2="325.60" stroke="#dedede" stroke-width="1" />
<line x1="224.70" y1="317.50" x2="224.70" y2="325.60" stroke="#dedede" stroke-width="1" />
<line x1="519.90" y1="319.90" x2="519.90" y2="325.60" stroke="#dedede" stroke-width="1" />
<line x1="212.90" y1="317.30" x2="519.00" y2="317.30" stroke="#d0d0d0" stroke-width="1" />
<line x1="213.00" y1="317.30" x2="519.00" y2="317.30" stroke="#bababa" stroke-width="1" stroke-dasharray="1 1"/>
<polyline points="217.20,314.80 212.60,317.30 217.20,319.80" fill="none" stroke="#707070" stroke-width="0.9"/>
<line x1="117.00" y1="321.70" x2="224.70" y2="321.70" stroke="#d0d0d0" stroke-width="1" />
<line x1="117.00" y1="321.70" x2="224.70" y2="321.70" stroke="#bababa" stroke-width="1" stroke-dasharray="1 1"/>
<polyline points="121.30,319.20 116.70,321.70 121.30,324.20" fill="none" stroke="#707070" stroke-width="0.9"/>
<text transform="rotate(0.2 116.2 264.3)" x="91.30" y="264.30" font-size="9.8" textLength="49.80" lengthAdjust="spacingAndGlyphs" fill="#141414" stroke="#141414" stroke-width="0.28" >113.0233</text>
<text transform="rotate(0.2 211.6 272.6)" x="187.30" y="272.60" font-size="9.8" textLength="48.70" lengthAdjust="spacingAndGlyphs" fill="#141414" stroke="#141414" stroke-width="0.28" >167.0342</text>
<text transform="rotate(0.2 181.7 302.8)" x="157.20" y="302.80" font-size="9.8" textLength="49.00" lengthAdjust="spacingAndGlyphs" fill="#141414" stroke="#141414" stroke-width="0.28" >152.0105</text>
<text transform="rotate(0.2 252.0 312.3)" x="227.70" y="312.30" font-size="9.8" textLength="48.70" lengthAdjust="spacingAndGlyphs" fill="#141414" stroke="#141414" stroke-width="0.28" >175.0241</text>
<text transform="rotate(0.2 520.1 313.0)" x="495.40" y="313.00" font-size="9.8" textLength="49.40" lengthAdjust="spacingAndGlyphs" fill="#141414" stroke="#141414" stroke-width="0.28" >343.0670</text>
<text transform="rotate(0.2 325.9 269.7)" x="289.00" y="269.70" font-size="9.9" textLength="73.90" lengthAdjust="spacingAndGlyphs" font-weight="bold" fill="#141414" stroke="#141414" stroke-width="0.1" >M17, M18, M19</text>
<text transform="rotate(0.2 517.6 301.4)" x="506.20" y="301.40" font-size="8.1" textLength="22.86" lengthAdjust="spacingAndGlyphs" font-weight="bold" fill="#141414" stroke="#141414" stroke-width="0.1" >[M-H]</text>
<text x="529.82" y="298.70" font-size="5.5" font-weight="bold" fill="#141414">-</text>
<text transform="rotate(0.2 362.0 313.1)" x="349.60" y="313.10" font-size="9.3" textLength="24.70" lengthAdjust="spacingAndGlyphs" font-weight="bold" fill="#141414" stroke="#141414" stroke-width="0.15" >-Glu A</text>
<text transform="rotate(0.2 145.7 317.2)" x="131.60" y="317.20" font-size="9.3" textLength="28.20" lengthAdjust="spacingAndGlyphs" font-weight="bold" fill="#141414" stroke="#141414" stroke-width="0.15" >-CH<tspan font-size="6.0" dy="1.7">2</tspan><tspan dy="-1.7">O</tspan><tspan font-size="6.0" dy="1.7">3</tspan></text>
<text transform="rotate(0.2 297.8 348.8)" x="288.60" y="348.80" font-size="9.4" textLength="18.30" lengthAdjust="spacingAndGlyphs" fill="#141414" stroke="#141414" stroke-width="0.28" >m/z</text>
<line x1="49.10" y1="372.40" x2="49.10" y2="432.10" stroke="#e2e2e2" stroke-width="1" />
<line x1="42.50" y1="431.60" x2="49.10" y2="431.60" stroke="#e2e2e2" stroke-width="1" />
<line x1="44.10" y1="425.73" x2="49.10" y2="425.73" stroke="#e2e2e2" stroke-width="1" />
<line x1="44.10" y1="419.86" x2="49.10" y2="419.86" stroke="#e2e2e2" stroke-width="1" />
<line x1="44.10" y1="413.99" x2="49.10" y2="413.99" stroke="#e2e2e2" stroke-width="1" />
<line x1="44.10" y1="408.12" x2="49.10" y2="408.12" stroke="#e2e2e2" stroke-width="1" />
<line x1="42.50" y1="402.25" x2="49.10" y2="402.25" stroke="#e2e2e2" stroke-width="1" />
<line x1="44.10" y1="396.38" x2="49.10" y2="396.38" stroke="#e2e2e2" stroke-width="1" />
<line x1="44.10" y1="390.51" x2="49.10" y2="390.51" stroke="#e2e2e2" stroke-width="1" />
<line x1="44.10" y1="384.64" x2="49.10" y2="384.64" stroke="#e2e2e2" stroke-width="1" />
<line x1="44.10" y1="378.77" x2="49.10" y2="378.77" stroke="#e2e2e2" stroke-width="1" />
<line x1="42.50" y1="372.90" x2="49.10" y2="372.90" stroke="#e2e2e2" stroke-width="1" />
<text transform="rotate(0.2 32.6 376.0)" x="23.00" y="376.00" font-size="9.8" textLength="19.20" lengthAdjust="spacingAndGlyphs" fill="#141414" stroke="#141414" stroke-width="0.28" >100</text>
<text transform="rotate(0.2 35.7 405.4)" x="29.20" y="405.35" font-size="9.8" textLength="13.00" lengthAdjust="spacingAndGlyphs" fill="#141414" stroke="#141414" stroke-width="0.28" >50</text>
<text transform="rotate(0.2 39.0 434.7)" x="35.80" y="434.70" font-size="9.8" textLength="6.40" lengthAdjust="spacingAndGlyphs" fill="#141414" stroke="#141414" stroke-width="0.28" >0</text>
<line x1="49.10" y1="442.70" x2="49.10" y2="502.20" stroke="#e2e2e2" stroke-width="1" />
<line x1="42.50" y1="501.70" x2="49.10" y2="501.70" stroke="#e2e2e2" stroke-width="1" />
<line x1="44.10" y1="495.85" x2="49.10" y2="495.85" stroke="#e2e2e2" stroke-width="1" />
<line x1="44.10" y1="490.00" x2="49.10" y2="490.00" stroke="#e2e2e2" stroke-width="1" />
<line x1="44.10" y1="484.15" x2="49.10" y2="484.15" stroke="#e2e2e2" stroke-width="1" />
<line x1="44.10" y1="478.30" x2="49.10" y2="478.30" stroke="#e2e2e2" stroke-width="1" />
<line x1="42.50" y1="472.45" x2="49.10" y2="472.45" stroke="#e2e2e2" stroke-width="1" />
<line x1="44.10" y1="466.60" x2="49.10" y2="466.60" stroke="#e2e2e2" stroke-width="1" />
<line x1="44.10" y1="460.75" x2="49.10" y2="460.75" stroke="#e2e2e2" stroke-width="1" />
<line x1="44.10" y1="454.90" x2="49.10" y2="454.90" stroke="#e2e2e2" stroke-width="1" />
<line x1="44.10" y1="449.05" x2="49.10" y2="449.05" stroke="#e2e2e2" stroke-width="1" />
<line x1="42.50" y1="443.20" x2="49.10" y2="443.20" stroke="#e2e2e2" stroke-width="1" />
<text transform="rotate(0.2 32.6 446.3)" x="23.00" y="446.30" font-size="9.8" textLength="19.20" lengthAdjust="spacingAndGlyphs" fill="#141414" stroke="#141414" stroke-width="0.28" >100</text>
<text transform="rotate(0.2 35.7 475.6)" x="29.20" y="475.55" font-size="9.8" textLength="13.00" lengthAdjust="spacingAndGlyphs" fill="#141414" stroke="#141414" stroke-width="0.28" >50</text>
<text transform="rotate(0.2 39.0 504.8)" x="35.80" y="504.80" font-size="9.8" textLength="6.40" lengthAdjust="spacingAndGlyphs" fill="#141414" stroke="#141414" stroke-width="0.28" >0</text>
<line x1="240.70" y1="372.40" x2="240.70" y2="432.00" stroke="#dedede" stroke-width="1" />
<line x1="440.50" y1="411.00" x2="440.50" y2="432.00" stroke="#dedede" stroke-width="1" />
<line x1="330.30" y1="428.00" x2="330.30" y2="432.00" stroke="#dedede" stroke-width="1" />
<line x1="100.60" y1="429.00" x2="100.60" y2="432.00" stroke="#dedede" stroke-width="1" />
<line x1="131.00" y1="428.00" x2="131.00" y2="432.00" stroke="#dedede" stroke-width="1" />
<line x1="241.50" y1="417.90" x2="437.50" y2="417.90" stroke="#d0d0d0" stroke-width="1" />
<line x1="242.00" y1="417.90" x2="437.50" y2="417.90" stroke="#bababa" stroke-width="1" stroke-dasharray="1 1"/>
<polyline points="245.80,415.40 241.20,417.90 245.80,420.40" fill="none" stroke="#707070" stroke-width="0.9"/>
<line x1="131.30" y1="425.60" x2="238.90" y2="425.60" stroke="#d0d0d0" stroke-width="1" />
<line x1="132.00" y1="425.60" x2="238.90" y2="425.60" stroke="#bababa" stroke-width="1" stroke-dasharray="1 1"/>
<polyline points="135.60,423.10 131.00,425.60 135.60,428.10" fill="none" stroke="#707070" stroke-width="0.9"/>
<line x1="58.20" y1="432.00" x2="533.60" y2="432.00" stroke="#6c6c6c" stroke-width="1.6" />
<text transform="rotate(0.2 240.4 369.6)" x="216.20" y="369.60" font-size="9.8" textLength="48.50" lengthAdjust="spacingAndGlyphs" fill="#141414" stroke="#141414" stroke-width="0.28" >153.0184</text>
<text transform="rotate(0.2 440.2 407.7)" x="415.30" y="407.70" font-size="9.8" textLength="49.80" lengthAdjust="spacingAndGlyphs" fill="#141414" stroke="#141414" stroke-width="0.28" >232.9758</text>
<text transform="rotate(0.2 154.9 416.2)" x="130.50" y="416.20" font-size="9.8" textLength="48.80" lengthAdjust="spacingAndGlyphs" fill="#141414" stroke="#141414" stroke-width="0.28" >109.0283</text>
<text transform="rotate(0.2 100.5 424.6)" x="79.10" y="424.60" font-size="9.8" textLength="42.70" lengthAdjust="spacingAndGlyphs" fill="#141414" stroke="#141414" stroke-width="0.28" >96.9589</text>
<text transform="rotate(0.2 316.2 373.4)" x="293.70" y="373.40" font-size="9.9" textLength="45.00" lengthAdjust="spacingAndGlyphs" font-weight="bold" fill="#141414" stroke="#141414" stroke-width="0.1" >M13, M14</text>
<text transform="rotate(0.2 438.5 394.7)" x="427.00" y="394.70" font-size="8.1" textLength="22.95" lengthAdjust="spacingAndGlyphs" font-weight="bold" fill="#141414" stroke="#141414" stroke-width="0.1" >[M-H]</text>
<text x="450.71" y="392.00" font-size="5.5" font-weight="bold" fill="#141414">-</text>
<text transform="rotate(0.2 345.4 413.2)" x="336.70" y="413.20" font-size="9.3" textLength="17.30" lengthAdjust="spacingAndGlyphs" font-weight="bold" fill="#141414" stroke="#141414" stroke-width="0.15" >-SO<tspan font-size="6.0" dy="1.7">3</tspan></text>
<text transform="rotate(0.2 202.5 421.6)" x="193.60" y="421.60" font-size="9.3" textLength="17.80" lengthAdjust="spacingAndGlyphs" font-weight="bold" fill="#141414" stroke="#141414" stroke-width="0.15" >-CO<tspan font-size="6.0" dy="1.7">2</tspan></text>
<line x1="58.50" y1="501.80" x2="533.50" y2="501.80" stroke="#d6d6d6" stroke-width="1" />
<line x1="58.50" y1="501.80" x2="58.50" y2="507.00" stroke="#d6d6d6" stroke-width="1" />
<line x1="71.00" y1="501.80" x2="71.00" y2="505.00" stroke="#d6d6d6" stroke-width="1" />
<line x1="83.50" y1="501.80" x2="83.50" y2="505.00" stroke="#d6d6d6" stroke-width="1" />
<line x1="96.00" y1="501.80" x2="96.00" y2="505.00" stroke="#d6d6d6" stroke-width="1" />
<line x1="108.50" y1="501.80" x2="108.50" y2="507.00" stroke="#d6d6d6" stroke-width="1" />
<line x1="121.00" y1="501.80" x2="121.00" y2="505.00" stroke="#d6d6d6" stroke-width="1" />
<line x1="133.50" y1="501.80" x2="133.50" y2="505.00" stroke="#d6d6d6" stroke-width="1" />
<line x1="146.00" y1="501.80" x2="146.00" y2="505.00" stroke="#d6d6d6" stroke-width="1" />
<line x1="158.50" y1="501.80" x2="158.50" y2="507.00" stroke="#d6d6d6" stroke-width="1" />
<line x1="171.00" y1="501.80" x2="171.00" y2="505.00" stroke="#d6d6d6" stroke-width="1" />
<line x1="183.50" y1="501.80" x2="183.50" y2="505.00" stroke="#d6d6d6" stroke-width="1" />
<line x1="196.00" y1="501.80" x2="196.00" y2="505.00" stroke="#d6d6d6" stroke-width="1" />
<line x1="208.50" y1="501.80" x2="208.50" y2="507.00" stroke="#d6d6d6" stroke-width="1" />
<line x1="221.00" y1="501.80" x2="221.00" y2="505.00" stroke="#d6d6d6" stroke-width="1" />
<line x1="233.50" y1="501.80" x2="233.50" y2="505.00" stroke="#d6d6d6" stroke-width="1" />
<line x1="246.00" y1="501.80" x2="246.00" y2="505.00" stroke="#d6d6d6" stroke-width="1" />
<line x1="258.50" y1="501.80" x2="258.50" y2="507.00" stroke="#d6d6d6" stroke-width="1" />
<line x1="271.00" y1="501.80" x2="271.00" y2="505.00" stroke="#d6d6d6" stroke-width="1" />
<line x1="283.50" y1="501.80" x2="283.50" y2="505.00" stroke="#d6d6d6" stroke-width="1" />
<line x1="296.00" y1="501.80" x2="296.00" y2="505.00" stroke="#d6d6d6" stroke-width="1" />
<line x1="308.50" y1="501.80" x2="308.50" y2="507.00" stroke="#d6d6d6" stroke-width="1" />
<line x1="321.00" y1="501.80" x2="321.00" y2="505.00" stroke="#d6d6d6" stroke-width="1" />
<line x1="333.50" y1="501.80" x2="333.50" y2="505.00" stroke="#d6d6d6" stroke-width="1" />
<line x1="346.00" y1="501.80" x2="346.00" y2="505.00" stroke="#d6d6d6" stroke-width="1" />
<line x1="358.50" y1="501.80" x2="358.50" y2="507.00" stroke="#d6d6d6" stroke-width="1" />
<line x1="371.00" y1="501.80" x2="371.00" y2="505.00" stroke="#d6d6d6" stroke-width="1" />
<line x1="383.50" y1="501.80" x2="383.50" y2="505.00" stroke="#d6d6d6" stroke-width="1" />
<line x1="396.00" y1="501.80" x2="396.00" y2="505.00" stroke="#d6d6d6" stroke-width="1" />
<line x1="408.50" y1="501.80" x2="408.50" y2="507.00" stroke="#d6d6d6" stroke-width="1" />
<line x1="421.00" y1="501.80" x2="421.00" y2="505.00" stroke="#d6d6d6" stroke-width="1" />
<line x1="433.50" y1="501.80" x2="433.50" y2="505.00" stroke="#d6d6d6" stroke-width="1" />
<line x1="446.00" y1="501.80" x2="446.00" y2="505.00" stroke="#d6d6d6" stroke-width="1" />
<line x1="458.50" y1="501.80" x2="458.50" y2="507.00" stroke="#d6d6d6" stroke-width="1" />
<line x1="471.00" y1="501.80" x2="471.00" y2="505.00" stroke="#d6d6d6" stroke-width="1" />
<line x1="483.50" y1="501.80" x2="483.50" y2="505.00" stroke="#d6d6d6" stroke-width="1" />
<line x1="496.00" y1="501.80" x2="496.00" y2="505.00" stroke="#d6d6d6" stroke-width="1" />
<line x1="508.50" y1="501.80" x2="508.50" y2="507.00" stroke="#d6d6d6" stroke-width="1" />
<line x1="521.00" y1="501.80" x2="521.00" y2="505.00" stroke="#d6d6d6" stroke-width="1" />
<line x1="533.50" y1="501.80" x2="533.50" y2="505.00" stroke="#d6d6d6" stroke-width="1" />
<text transform="rotate(0.2 58.5 516.5)" x="52.15" y="516.50" font-size="9.8" textLength="12.70" lengthAdjust="spacingAndGlyphs" fill="#141414" stroke="#141414" stroke-width="0.28" >80</text>
<text transform="rotate(0.2 108.5 516.5)" x="98.90" y="516.50" font-size="9.8" textLength="19.20" lengthAdjust="spacingAndGlyphs" fill="#141414" stroke="#141414" stroke-width="0.28" >100</text>
<text transform="rotate(0.2 158.5 516.5)" x="148.90" y="516.50" font-size="9.8" textLength="19.20" lengthAdjust="spacingAndGlyphs" fill="#141414" stroke="#141414" stroke-width="0.28" >120</text>
<text transform="rotate(0.2 208.5 516.5)" x="198.90" y="516.50" font-size="9.8" textLength="19.20" lengthAdjust="spacingAndGlyphs" fill="#141414" stroke="#141414" stroke-width="0.28" >140</text>
<text transform="rotate(0.2 258.5 516.5)" x="248.90" y="516.50" font-size="9.8" textLength="19.20" lengthAdjust="spacingAndGlyphs" fill="#141414" stroke="#141414" stroke-width="0.28" >160</text>
<text transform="rotate(0.2 308.5 516.5)" x="298.90" y="516.50" font-size="9.8" textLength="19.20" lengthAdjust="spacingAndGlyphs" fill="#141414" stroke="#141414" stroke-width="0.28" >180</text>
<text transform="rotate(0.2 358.5 516.5)" x="348.90" y="516.50" font-size="9.8" textLength="19.20" lengthAdjust="spacingAndGlyphs" fill="#141414" stroke="#141414" stroke-width="0.28" >200</text>
<text transform="rotate(0.2 408.5 516.5)" x="398.90" y="516.50" font-size="9.8" textLength="19.20" lengthAdjust="spacingAndGlyphs" fill="#141414" stroke="#141414" stroke-width="0.28" >220</text>
<text transform="rotate(0.2 458.5 516.5)" x="448.90" y="516.50" font-size="9.8" textLength="19.20" lengthAdjust="spacingAndGlyphs" fill="#141414" stroke="#141414" stroke-width="0.28" >240</text>
<text transform="rotate(0.2 508.5 516.5)" x="498.90" y="516.50" font-size="9.8" textLength="19.20" lengthAdjust="spacingAndGlyphs" fill="#141414" stroke="#141414" stroke-width="0.28" >260</text>
<line x1="275.00" y1="442.40" x2="275.00" y2="501.80" stroke="#dedede" stroke-width="1" />
<line x1="475.40" y1="491.00" x2="475.40" y2="501.80" stroke="#dedede" stroke-width="1" />
<line x1="100.50" y1="496.60" x2="100.50" y2="501.80" stroke="#dedede" stroke-width="1" />
<line x1="276.10" y1="492.00" x2="473.60" y2="492.00" stroke="#d0d0d0" stroke-width="1" />
<line x1="277.00" y1="492.00" x2="473.60" y2="492.00" stroke="#bababa" stroke-width="1" stroke-dasharray="1 1"/>
<polyline points="280.40,489.50 275.80,492.00 280.40,494.50" fill="none" stroke="#707070" stroke-width="0.9"/>
<text transform="rotate(0.2 275.8 440.4)" x="251.40" y="440.40" font-size="9.8" textLength="48.70" lengthAdjust="spacingAndGlyphs" fill="#141414" stroke="#141414" stroke-width="0.28" >167.0343</text>
<text transform="rotate(0.2 475.2 488.0)" x="450.40" y="488.00" font-size="9.8" textLength="49.60" lengthAdjust="spacingAndGlyphs" fill="#141414" stroke="#141414" stroke-width="0.28" >246.9917</text>
<text transform="rotate(0.2 100.6 492.8)" x="79.10" y="492.80" font-size="9.8" textLength="42.90" lengthAdjust="spacingAndGlyphs" fill="#141414" stroke="#141414" stroke-width="0.28" >96.9590</text>
<text transform="rotate(0.2 234.3 460.7)" x="210.70" y="460.70" font-size="9.9" textLength="47.30" lengthAdjust="spacingAndGlyphs" font-weight="bold" fill="#141414" stroke="#141414" stroke-width="0.1" >M20, M21</text>
<text transform="rotate(0.2 473.1 475.7)" x="461.70" y="475.70" font-size="8.1" textLength="22.86" lengthAdjust="spacingAndGlyphs" font-weight="bold" fill="#141414" stroke="#141414" stroke-width="0.1" >[M-H]</text>
<text x="485.32" y="473.00" font-size="5.5" font-weight="bold" fill="#141414">-</text>
<text transform="rotate(0.2 372.8 487.6)" x="363.60" y="487.60" font-size="9.3" textLength="18.40" lengthAdjust="spacingAndGlyphs" font-weight="bold" fill="#141414" stroke="#141414" stroke-width="0.15" >-SO<tspan font-size="6.0" dy="1.7">3</tspan></text>
<text transform="rotate(0.2 295.6 527.4)" x="286.50" y="527.40" font-size="9.4" textLength="18.10" lengthAdjust="spacingAndGlyphs" fill="#141414" stroke="#141414" stroke-width="0.28" >m/z</text>
</svg>
</body></html>
